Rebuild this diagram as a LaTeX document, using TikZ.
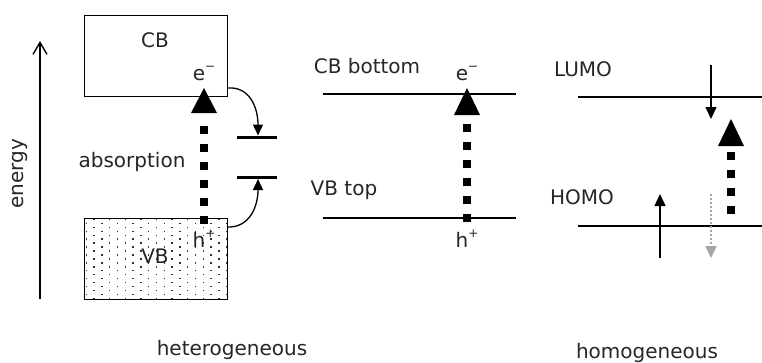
\documentclass[tikz,border=0pt]{standalone}
\usepackage{fontspec}
\setmainfont{DejaVu Sans}
\usetikzlibrary{arrows.meta}
\newcommand\mysup[1]{\raisebox{0.5em}{\fontsize{12}{12}\selectfont #1}}
\begin{document}
\begin{tikzpicture}[x=1pt,y=-1pt,
  lbl/.style={font=\fontsize{20}{24}\selectfont, inner sep=0pt, anchor=base, text=black!85},
  bandbox/.style={draw, line width=1.3pt, inner sep=0pt, anchor=north west},
  level/.style={line width=2.6pt},
  trap/.style={line width=3pt},
  bigdash/.style={line width=8pt, dash pattern=on 8pt off 10pt},
  bigtip/.style={fill=black},
  thinarrow/.style={line width=1.4pt, -{Triangle[length=12pt,width=11pt]}},
  curvarrow/.style={line width=1.3pt, -{Triangle[length=11pt,width=10pt]}},
]
\useasboundingbox (0,0) rectangle (762,362);

% energy axis
\coordinate (eb) at (40,299);
\coordinate (et) at (40,41);
\draw[line width=1.4pt, -{Straight Barb[length=12pt,width=14pt]}] (eb) -- (et);
\node[lbl, rotate=90, anchor=base] (energy) at (23,174) {energy};

% heterogeneous: bands
\node[bandbox, minimum width=143pt, minimum height=81pt] (cb) at (84,15) {};
\begin{scope}
  \clip (84,218) rectangle (227,299);
  \foreach \r in {0,...,20} {
    \foreach \c in {0,...,10} {
      \fill[black!80] ({86.2+\c*15.6+mod(\r+1,2)*7.8-0.7},{219.4+\r*3.95-0.7}) rectangle ++(1.4,1.4);
    }
  }
\end{scope}
\node[bandbox, minimum width=143pt, minimum height=81pt] (vb) at (84,218) {};
\node[lbl] (cbt) at (155,47) {CB};
\node[lbl] (vbt) at (155,263) {VB};
\node[lbl] (e1) at (204,80) {e\mysup{−}};
\node[lbl] (h1) at (204,247) {h\mysup{+}};
\node[lbl] (abs) at (132,167) {absorption};

% excitation arrow (left)
\coordinate (a1s) at (204,224);
\coordinate (a1e) at (204,126);
\draw[bigdash] (a1s) -- (a1e);
\fill[bigtip] (191,113) -- (204,88) -- (217,113) -- cycle;

% trap levels
\coordinate (tua) at (237,137); \coordinate (tub) at (277,137);
\coordinate (tla) at (237,177); \coordinate (tlb) at (277,177);
\draw[trap] (tua) -- (tub);
\draw[trap] (tla) -- (tlb);
\coordinate (cbr) at (227,88);
\coordinate (vbr) at (227,227);
\coordinate (tuin) at (258,135.5);
\coordinate (tlin) at (258,179);
\draw[curvarrow] (cbr) .. controls (250,86) and (258,108) .. (tuin);
\draw[curvarrow] (vbr) .. controls (250,228) and (258,206) .. (tlin);

% middle: band edges
\coordinate (cba) at (323,94); \coordinate (cbb) at (516,94);
\coordinate (vba) at (323,218); \coordinate (vbb) at (516,218);
\draw[level] (cba) -- (cbb);
\draw[level] (vba) -- (vbb);
\node[lbl] (cbbot) at (367,73) {CB bottom};
\node[lbl] (vbtop) at (344,195) {VB top};
\node[lbl] (e2) at (467,80) {e\mysup{−}};
\node[lbl] (h2) at (467,247) {h\mysup{+}};
\coordinate (a2s) at (467,222);
\coordinate (a2e) at (467,124);
\draw[bigdash] (a2s) -- (a2e);
\fill[bigtip] (454,115) -- (467,88) -- (480,115) -- cycle;

% right: molecular orbitals
\coordinate (lua) at (578,97); \coordinate (lub) at (762,97);
\coordinate (hoa) at (578,226); \coordinate (hob) at (762,226);
\draw[level] (lua) -- (lub);
\draw[level] (hoa) -- (hob);
\node[lbl] (lumo) at (583,76) {LUMO};
\node[lbl] (homo) at (582,204) {HOMO};
\coordinate (dn1) at (711,65); \coordinate (dn2) at (711,119);
\draw[thinarrow] (dn1) -- (dn2);
\coordinate (up1) at (660,258); \coordinate (up2) at (660,194);
\draw[thinarrow] (up1) -- (up2);
\coordinate (gr1) at (711,194); \coordinate (gr2) at (711,258);
\draw[line width=2.2pt, color=black!35, dash pattern=on 2pt off 2pt, -{Triangle[length=12pt,width=11pt]}] (gr1) -- (gr2);
\coordinate (a3s) at (731,214);
\coordinate (a3e) at (731,152);
\draw[bigdash] (a3s) -- (a3e);
\fill[bigtip] (718,146) -- (731,119) -- (744,146) -- cycle;

% captions
\node[lbl] (het) at (232,355) {heterogeneous};
\node[lbl] (hom) at (647,358) {homogeneous};
\end{tikzpicture}
\end{document}
